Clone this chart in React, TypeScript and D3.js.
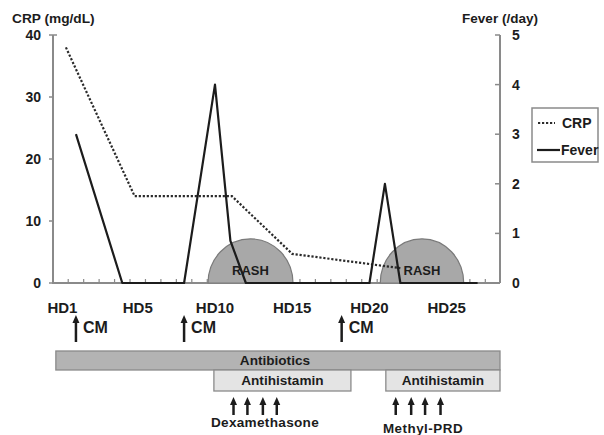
import * as React from 'react'
import * as d3 from 'd3'

// fever polyline (bend points only), hospital day -> episodes/day
const feverDays = [1, 4, 8, 10, 11, 12, 20, 21, 22, 27]
const feverValues = [3, 0, 0, 4, 0.85, 0, 0, 2, 0, 0]
// CRP (mg/dL)
const crpDays = [0.35, 4.8, 11.1, 15.0, 22.0]
const crpValues = [38, 14, 14, 4.7, 2.4]

const crpTicks = [0, 10, 20, 30, 40]
const feverTicks = [0, 1, 2, 3, 4, 5]
const hdDays = [1, 5, 10, 15, 20, 25]
const hdLabels = ['HD1', 'HD5', 'HD10', 'HD15', 'HD20', 'HD25']

const rashStarts = [9.55, 20.7]
const rashEnds = [15.05, 26.1]
const rashHeight = 0.89

const cmDays = [1, 8, 18.2]
const treatNames = ['Antibiotics', 'Antihistamin', 'Antihistamin']
const treatStarts = [-0.3, 9.93, 21.06]
const treatEnds = [28.45, 18.8, 28.45]
const treatRows = [0, 1, 1]
const dexDays = [11.2, 12.1, 13.1, 14.0]
const mprdDays = [21.7, 22.7, 23.6, 24.6]

const FONT = '"Liberation Sans", Arial, sans-serif'
const AXIS = '#8a8a8a'
const INK = '#1c1c1c'

function Arrow({ x, top, bottom }: { x: number, top: number, bottom: number }) {
    return <g>
        <line x1={x} x2={x} y1={bottom} y2={top + 5} stroke={INK} strokeWidth={2.5} />
        <polygon points={`${x - 3.5},${top + 8} ${x + 3.5},${top + 8} ${x},${top}`} fill={INK} />
    </g>
}

export default function App() {
    const W = 604
    const H = 435
    const x = d3.scaleLinear().domain([-0.55, 28.45]).range([52, 500])
    const yCrp = d3.scaleLinear().domain([0, 40]).range([283, 35])
    const yFev = d3.scaleLinear().domain([0, 5]).range([283, 35])

    const feverLine = d3.line<number>()
        .x((_, i) => x(feverDays[i]))
        .y(v => yFev(v))(feverValues)
    const crpLine = d3.line<number>()
        .x((_, i) => x(crpDays[i]))
        .y(v => yCrp(v))(crpValues)

    const minorTicks = d3.range(0.5, 28, 1)
    const rowTop = [351, 370]
    const rowH = [19, 21]

    return <svg width={W} height={H} viewBox={`0 0 ${W} ${H}`}
        style={{ position: 'absolute', left: 0, top: 0, background: '#fff' }}
        fontFamily={FONT} fontWeight="bold" fill={INK}>
        {/* axis titles */}
        <text x={12} y={23} fontSize={13.7}>CRP (mg/dL)</text>
        <text x={500} y={23} fontSize={13.5} textAnchor="middle">Fever (/day)</text>

        {/* left axis */}
        <line x1={53} x2={53} y1={yCrp(40)} y2={yCrp(0)} stroke={AXIS} strokeWidth={2} />
        <line x1={53} x2={57} y1={yCrp(40)} y2={yCrp(40)} stroke={AXIS} strokeWidth={1.5} />
        {crpTicks.map((t, i) => <g key={i}>
            <line x1={49} x2={53} y1={yCrp(t)} y2={yCrp(t)} stroke={AXIS} strokeWidth={1.5} />
            <text x={41} y={yCrp(t)} dy="0.36em" textAnchor="end" fontSize={14}>{t}</text>
        </g>)}

        {/* right axis */}
        <line x1={500} x2={500} y1={yFev(5)} y2={yFev(0)} stroke={AXIS} strokeWidth={2} />
        {feverTicks.map((t, i) => <g key={i}>
            <line x1={495} x2={500} y1={yFev(t)} y2={yFev(t)} stroke={AXIS} strokeWidth={1.5} />
            <text x={512} y={yFev(t)} dy="0.36em" fontSize={14}>{t}</text>
        </g>)}

        {/* x axis */}
        <line x1={52} x2={500} y1={283} y2={283} stroke={AXIS} strokeWidth={2} />
        {minorTicks.map((d, i) =>
            <line key={i} x1={x(d)} x2={x(d)} y1={283} y2={279} stroke={AXIS} strokeWidth={1.2} />
        )}
        {hdDays.map((d, i) =>
            <text key={i} x={i === 0 ? x(d) + 1.5 : x(d)} y={313} fontSize={15}
                textAnchor={i === 0 ? 'end' : 'middle'}>{hdLabels[i]}</text>
        )}

        {/* rash */}
        {rashStarts.map((s, i) => {
            const x0 = x(s), x1 = x(rashEnds[i])
            const rx = (x1 - x0) / 2
            const ry = yFev(0) - yFev(rashHeight)
            return <path key={i} d={`M${x0},${yFev(0)} A${rx},${ry} 0 0 1 ${x1},${yFev(0)} Z`}
                fill="#a8a8a8" stroke="#7a7a7a" strokeWidth={1.2} />
        })}

        {/* series */}
        <path d={crpLine} fill="none" stroke="#2a2a2a" strokeWidth={2.2} strokeDasharray="2.2,1.8" />
        <path d={feverLine} fill="none" stroke={INK} strokeWidth={2.2} strokeLinejoin="round" />

        {rashStarts.map((s, i) =>
            <text key={i} x={(x(s) + x(rashEnds[i])) / 2} y={275} fontSize={13}
                textAnchor="middle">RASH</text>
        )}

        {/* legend */}
        <rect x={532} y={108} width={66} height={54} fill="#fff" stroke="#8a8a8a" strokeWidth={1.5} />
        <line x1={538} x2={555} y1={123} y2={123} stroke="#2a2a2a" strokeWidth={2.2} strokeDasharray="2.2,1.8" />
        <text x={562} y={128} fontSize={14}>CRP</text>
        <line x1={537} x2={560} y1={150} y2={150} stroke={INK} strokeWidth={2.2} />
        <text x={561} y={155} fontSize={14}>Fever</text>

        {/* contrast media */}
        {cmDays.map((d, i) => <g key={i}>
            <Arrow x={x(d)} top={315} bottom={342} />
            <text x={x(d) + 7} y={333} fontSize={16}>CM</text>
        </g>)}

        {/* treatments */}
        {treatNames.map((n, i) => {
            const r = treatRows[i]
            const x0 = x(treatStarts[i]), x1 = x(treatEnds[i])
            return <g key={i}>
                <rect x={x0} y={rowTop[r]} width={x1 - x0} height={rowH[r]}
                    fill={r === 0 ? '#b3b3b3' : '#e4e4e4'} stroke="#8a8a8a" strokeWidth={1.3} />
                <text x={r === 0 ? (x0 + x1) / 2 - 3 : (x0 + x1) / 2} y={rowTop[r] + rowH[r] / 2}
                    dy="0.36em" fontSize={13.6} textAnchor="middle">{n}</text>
            </g>
        })}

        {dexDays.map((d, i) => <Arrow key={i} x={x(d)} top={397} bottom={415} />)}
        <text x={265} y={427} fontSize={13.6} textAnchor="middle" letterSpacing={0.3}>Dexamethasone</text>
        {mprdDays.map((d, i) => <Arrow key={i} x={x(d)} top={397} bottom={415} />)}
        <text x={423} y={433} fontSize={13.4} textAnchor="middle" letterSpacing={0.5}>Methyl-PRD</text>
    </svg>
}
